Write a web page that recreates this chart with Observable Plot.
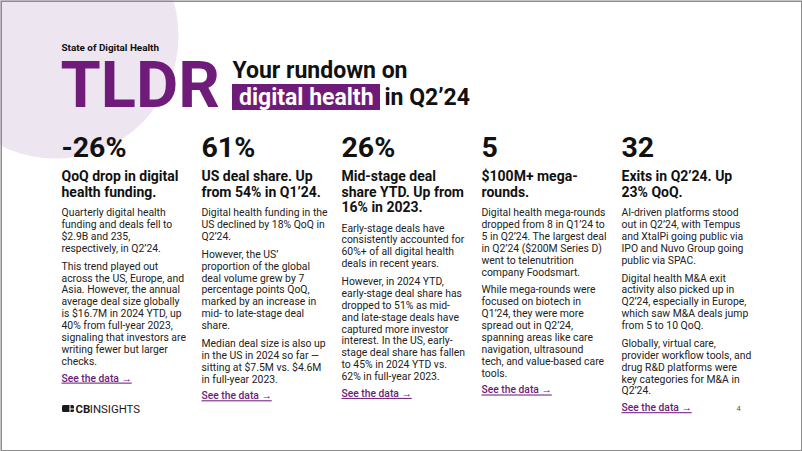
<!DOCTYPE html>
<html><head><meta charset="utf-8">
<script src="https://cdn.jsdelivr.net/npm/d3@7"></script>
<script src="https://cdn.jsdelivr.net/npm/@observablehq/plot@0.6"></script>
<style>
html,body{margin:0;padding:0;background:#fff;}
#chart svg{display:block;}
</style></head><body><div id="chart"></div>
<script>
// ---------- content ----------
const kicker = "State of Digital Health";
const bigTitle = "TLDR";
const titleLine1 = "Your rundown on";
const titleHighlight = "digital health";
const titleTail = "in Q2’24";
const columns = ["funding", "us", "stage", "mega", "exits"];
const stats = ["-26%", "61%", "26%", "5", "32"];
const headlines = [
  ["QoQ drop in digital", "health funding."],
  ["US deal share. Up", "from 54% in Q1’24."],
  ["Mid-stage deal", "share YTD. Up from", "16% in 2023."],
  ["$100M+ mega-", "rounds."],
  ["Exits in Q2’24. Up", "23% QoQ."]
];
const bodies = [
  [
    ["Quarterly digital health", "funding and deals fell to", "$2.9B and 235,", "respectively, in Q2’24."],
    ["This trend played out", "across the US, Europe, and", "Asia. However, the annual", "average deal size globally", "is $16.7M in 2024 YTD, up", "40% from full-year 2023,", "signaling that investors are", "writing fewer but larger", "checks."]
  ],
  [
    ["Digital health funding in the", "US declined by 18% QoQ in", "Q2’24."],
    ["However, the US’", "proportion of the global", "deal volume grew by 7", "percentage points QoQ,", "marked by an increase in", "mid- to late-stage deal", "share."],
    ["Median deal size is also up", "in the US in 2024 so far —", "sitting at $7.5M vs. $4.6M", "in full-year 2023."]
  ],
  [
    ["Early-stage deals have", "consistently accounted for", "60%+ of all digital health", "deals in recent years."],
    ["However, in 2024 YTD,", "early-stage deal share has", "dropped to 51% as mid-", "and late-stage deals have", "captured more investor", "interest. In the US, early-", "stage deal share has fallen", "to 45% in 2024 YTD vs.", "62% in full-year 2023."]
  ],
  [
    ["Digital health mega-rounds", "dropped from 8 in Q1’24 to", "5 in Q2’24. The largest deal", "in Q2’24 ($200M Series D)", "went to telenutrition", "company Foodsmart."],
    ["While mega-rounds were", "focused on biotech in", "Q1’24, they were more", "spread out in Q2’24,", "spanning areas like care", "navigation, ultrasound", "tech, and value-based care", "tools."]
  ],
  [
    ["AI-driven platforms stood", "out in Q2’24, with Tempus", "and XtalPi going public via", "IPO and Nuvo Group going", "public via SPAC."],
    ["Digital health M&A exit", "activity also picked up in", "Q2’24, especially in Europe,", "which saw M&A deals jump", "from 5 to 10 QoQ."],
    ["Globally, virtual care,", "provider workflow tools, and", "drug R&D platforms were", "key categories for M&A in", "Q2’24."]
  ]
];
const linkLabel = "See the data →";
const brandBold = "CB";
const brandRest = "INSIGHTS";
const pageNumber = "4";

// ---------- style / layout ----------
const W = 802, H = 451;
const purple = "#6e1b79";
const ink = "#111111";
const bodyInk = "#222222";
const L = {
  colLeft: 61, colRight: 621,
  statY: 147, headY: 176.5, headLH: 15.3, bodyGap: 20.6, bodyLH: 11.9, paraGap: 5.8, linkGap: 16.8,
  statSize: 28.5, headSize: 14, bodySize: 10.4, linkSize: 10.3
};
const colX = d3.scalePoint().domain(columns).range([L.colLeft, L.colRight]);

const rows = [];
columns.forEach((c, i) => {
  const x = colX(c);
  rows.push({kind: "stat", x, y: L.statY, text: stats[i]});
  headlines[i].forEach((t, j) => rows.push({kind: "head", x, y: L.headY + j * L.headLH, text: t}));
  let y = L.headY + (headlines[i].length - 1) * L.headLH + L.bodyGap;
  bodies[i].forEach((para, p) => {
    if (p > 0) y += L.paraGap;
    para.forEach((t) => { rows.push({kind: "body", x, y, text: t}); y += L.bodyLH; });
  });
  y += L.linkGap - L.bodyLH;
  rows.push({kind: "link", x, y, text: linkLabel});
});
const of = (k) => rows.filter((d) => d.kind === k);

const plot = Plot.plot({
  width: W, height: H, margin: 0,
  x: {type: "identity", axis: null}, y: {type: "identity", axis: null},
  style: {fontFamily: "Roboto, sans-serif", background: "#fff", overflow: "hidden"},
  marks: [
    Plot.dot([{x: 55, y: 35}], {x: "x", y: "y", r: 123, fill: "#ede5ef", stroke: null}),
    Plot.frame({stroke: "#8c8c8c", strokeWidth: 1.5, inset: 0.75}),
    Plot.text([kicker], {x: 61, y: 47.5, text: (d) => d, textAnchor: "start", fontSize: 9.9, fontWeight: 700, fill: ink}),
    Plot.text([bigTitle], {x: 60, y: 86, text: (d) => d, textAnchor: "start", fontSize: 65, fontWeight: 700, fill: purple}),
    Plot.text([titleLine1], {x: 232, y: 70.5, text: (d) => d, textAnchor: "start", fontSize: 23, fontWeight: 700, fill: ink}),
    Plot.rect([{x1: 232, x2: 380, y1: 84, y2: 110}], {x1: "x1", x2: "x2", y1: "y1", y2: "y2", fill: purple}),
    Plot.text([titleHighlight], {x: 238.5, y: 97.5, text: (d) => d, textAnchor: "start", fontSize: 23, fontWeight: 700, fill: "#fff"}),
    Plot.text([titleTail], {x: 384, y: 97.5, text: (d) => d, textAnchor: "start", fontSize: 23, fontWeight: 700, fill: ink}),
    Plot.text(of("stat"), {x: "x", y: "y", text: "text", textAnchor: "start", fontSize: L.statSize, fontWeight: 700, fill: ink}),
    Plot.text(of("head"), {x: "x", y: "y", text: "text", textAnchor: "start", fontSize: L.headSize, fontWeight: 700, fill: ink}),
    Plot.text(of("body"), {x: "x", y: "y", text: "text", textAnchor: "start", fontSize: L.bodySize, fill: bodyInk}),
    Plot.text(of("link"), {x: "x", y: "y", text: "text", textAnchor: "start", fontSize: L.linkSize, fontWeight: 500, fill: purple}),
    // logo
    Plot.rect([{x1: 62, x2: 74, y1: 405, y2: 412}], {x1: "x1", x2: "x2", y1: "y1", y2: "y2", fill: "#1a1a1a", rx: 1.5}),
    Plot.ruleX([69.5], {x: (d) => d, y1: 405, y2: 412, stroke: "#fff", strokeWidth: 1}),
    Plot.ruleY([408.5], {y: (d) => d, x1: 69.5, x2: 74, stroke: "#fff", strokeWidth: 1}),
    Plot.text([brandBold], {x: 75, y: 408.5, text: (d) => d, textAnchor: "start", fontSize: 11.4, fontWeight: 700, fill: "#1a1a1a"}),
    Plot.text([brandRest], {x: 89.3, y: 408.5, text: (d) => d, textAnchor: "start", fontSize: 11.4, fontWeight: 400, fill: "#1a1a1a"}),
    Plot.text([pageNumber], {x: 738, y: 408.5, text: (d) => d, textAnchor: "middle", fontSize: 7.5, fill: "#555"})
  ]
});
plot.querySelectorAll("text").forEach((t) => {
  if (t.textContent === linkLabel) t.style.textDecoration = "underline";
});
document.getElementById("chart").appendChild(plot);
</script></body></html>
